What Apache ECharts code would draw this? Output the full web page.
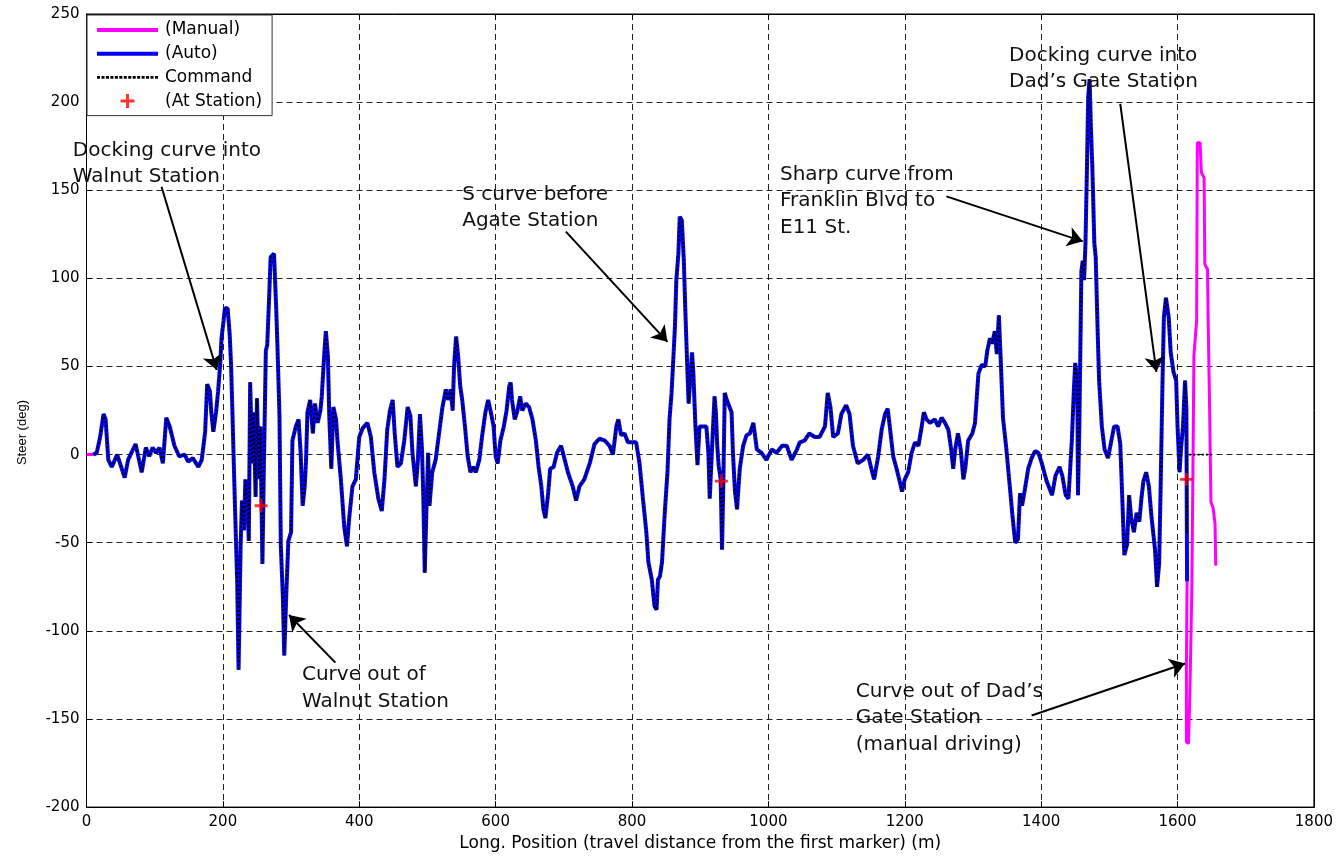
<!DOCTYPE html>
<html>
<head>
<meta charset="utf-8">
<script src="https://cdn.jsdelivr.net/npm/echarts@6/dist/echarts.min.js"></script>
<style>
  html, body { margin: 0; padding: 0; background: #fff; }
  #chart { width: 1336px; height: 857px; }
</style>
</head>
<body>
<div id="chart"></div>
<script>
// Steering angle along the route, automated run (position in m, steer in deg)
const autoPos = [
  10, 15, 20, 25, 28, 32, 37, 45, 50, 56, 61, 67, 72, 77, 81, 87, 92, 97, 102, 107,
  112, 117, 122, 129, 136, 144, 149, 156, 164, 169, 174, 177, 181, 183, 186, 190, 193, 196, 198, 201,
  203, 207, 210, 212, 214, 216, 218, 221, 223, 226, 228, 231, 233, 236, 238, 240, 243, 245, 248, 250,
  253, 255, 258, 260, 263, 265, 268, 270, 275, 278, 280, 283, 285, 288, 290, 293, 296,
  300, 302, 307, 311, 314, 317, 320, 322, 324, 328, 332, 335, 339, 343, 345, 349, 351, 354, 356, 359,
  362, 366, 368, 373, 378, 382, 385, 390, 395, 400, 405, 412, 417, 422, 428, 433, 437, 441, 445, 449,
  452, 456, 461, 466, 471, 475, 478, 483, 486, 489, 492, 494, 496, 499, 501, 503, 507, 512, 517, 522,
  527, 530, 534, 537, 539, 542, 545, 548, 551, 555, 559, 563, 567, 571, 576, 580, 585, 589, 593, 597,
  600, 603, 607, 612, 616, 620, 622, 624, 628, 632, 636, 639, 644, 649, 654, 659, 663, 667, 670, 673,
  677, 680, 685, 690, 696,
  700, 706, 713, 718, 723, 730, 738, 745, 752, 760, 767, 772, 777, 780, 784, 789, 794, 799, 806, 811,
  816, 821, 824, 829, 833, 836, 838, 841, 844, 848, 852, 855, 858, 860, 863, 865, 868, 870, 873, 876,
  878, 881, 883, 886, 888, 890, 893, 896, 899, 904, 909, 912, 914, 918, 921, 923, 925, 927, 930, 932,
  934, 936, 939, 942, 946, 948, 951, 954, 958, 963, 968, 973, 978, 983, 990, 997, 1005, 1012, 1020, 1027,
  1034, 1042, 1046,
  1053, 1060, 1068, 1075, 1083, 1087, 1091, 1095, 1102, 1107, 1114, 1119, 1124, 1131, 1139, 1146, 1151, 1155, 1161, 1166,
  1171, 1175, 1178, 1183, 1188, 1193, 1196, 1200, 1205, 1210, 1215, 1220, 1224, 1228, 1232, 1237, 1244, 1249, 1254, 1259,
  1264, 1268, 1271, 1274, 1278, 1282, 1286, 1289, 1293, 1299, 1303, 1308, 1313, 1318, 1321, 1325, 1328, 1332, 1335, 1338,
  1341, 1344, 1349, 1354, 1358, 1362, 1366, 1369, 1372, 1376, 1381,
  1386, 1391, 1396, 1401, 1408, 1416, 1421, 1427, 1431, 1436, 1440, 1443, 1445, 1448, 1450, 1453, 1454, 1456, 1459, 1461,
  1463, 1465, 1467, 1469, 1471, 1473, 1475, 1478, 1480, 1483, 1485, 1489, 1493, 1498, 1502, 1507, 1512, 1516, 1519, 1522,
  1526, 1529, 1532, 1536, 1540, 1544, 1547, 1550, 1554, 1558, 1562, 1567, 1570, 1573, 1575, 1578, 1580, 1583, 1587, 1590,
  1594, 1598, 1600, 1603, 1605, 1608, 1611, 1613, 1614
];
const autoSteer = [
  0, 1, 10, 23, 20, -3, -7, 0, -6, -13, -3, 2, 6, -3, -10, 4, -1, 4, 1, 4,
  -5, 21, 16, 5, -1, 0, -4, -2, -7, -3, 13, 40, 36, 24, 13, 24, 36, 51, 66, 76,
  83, 83, 68, 51, 24, -5, -33, -72, -122, -52, -26, -43, -14, -26, -49, 41, -5, 24, -24, 32,
  -14, 16, -62, -10, 59, 62, 91, 112, 114, 85, 62, 22, -52, -81, -114, -79, -49,
  -44, 8, 16, 20, 1, -29, -18, -3, 24, 31, 12, 29, 18, 25, 33, 59, 70, 56, 22, -8,
  27, 20, 8, -14, -41, -52, -37, -18, -14, 10, 15, 18, 10, -10, -25, -32, -14, 14, 25, 31,
  12, -7, -5, 8, 27, 22, 1, -18, -3, 23, 3, -25, -67, -25, 1, -29, -10, -3, 12, 27,
  37, 31, 37, 25, 50, 67, 56, 39, 31, 16, -1, -10, -7, -10, -3, 10, 24, 31, 24, 16,
  -1, -5, 8, 16, 25, 39, 41, 31, 20, 25, 33, 25, 29, 27, 20, 8, -7, -18, -31, -36,
  -22, -8, -7, 1, 5,
  -1, -10, -18, -26, -18, -14, -5, 6, 9, 8, 5, 0, 16, 20, 11, 12, 7, 7, 7, -5,
  -25, -44, -61, -71, -86, -88, -71, -69, -61, -33, -10, 20, 35, 50, 73, 99, 114, 135, 133, 110,
  84, 50, 29, 46, 58, 46, 16, -6, 16, 16, 16, 1, -25, 9, 33, 24, 5, -6, -14, -54,
  -14, 35, 31, 28, 24, 1, -21, -31, -8, 5, 11, 12, 18, 3, 1, -3, 3, 1, 5, 5,
  -3, 3, 7,
  8, 12, 10, 10, 16, 35, 27, 10, 12, 23, 28, 23, 5, -5, -3, 0, -8, -14, -1, 14,
  23, 26, 16, -1, -8, -16, -21, -14, -10, 1, 7, 5, 14, 24, 20, 18, 20, 16, 21, 18,
  14, 3, -8, 3, 12, 3, -14, -7, 8, 12, 18, 46, 51, 50, 59, 66, 63, 70, 57, 79,
  51, 21, 3, -18, -35, -50, -48, -22, -29, -20, -8,
  -2, 2, 1, -5, -15, -23, -12, -7, -12, -23, -25, -5, 8, 37, 52, 42, -23, 16, 104, 110,
  99, 120, 159, 203, 213, 185, 164, 120, 112, 68, 42, 16, 3, -2, 6, 16, 16, 6, -25, -57,
  -51, -23, -36, -44, -33, -38, -25, -15, -10, -18, -36, -54, -75, -62, -23, 42, 78, 89, 78, 58,
  47, 42, 16, -10, 3, 16, 42, 26, -72
];

// Commanded steer follows the automated trace, then is released to zero
const commandTailPos = [1614, 1614, 1650];
const commandTailSteer = [-45, 0, 0];

// Manual driving: short stretch at the start and the exit from Dad's Gate
const manualStartPos = [0, 10];
const manualStartSteer = [0, 0];
const manualEndPos = [1614, 1613, 1613, 1616, 1618, 1621, 1623, 1624, 1628, 1629, 1633, 1635, 1639, 1640, 1644, 1645, 1647, 1649, 1652, 1655, 1656];
const manualEndSteer = [-72, -120, -163, -164, -137, -76, 10, 56, 76, 177, 177, 160, 157, 108, 105, 74, 27, -27, -30, -39, -63];

// Station stops
const stationPos = [256, 931, 1613];
const stationSteer = [-29, -15, -14];

// Annotations (text anchor and arrow in data units)
const noteTexts = [
  'Docking curve into\nWalnut Station',
  'S curve before\nAgate Station',
  'Sharp curve from\nFranklin Blvd to\nE11 St.',
  'Docking curve into\nDad\u2019s Gate Station',
  'Curve out of\nWalnut Station',
  'Curve out of Dad\u2019s\nGate Station\n(manual driving)'
];
const noteAnchors = [[-20, 180], [551, 155], [1017, 166.5], [1353, 234], [316, -117.5], [1128, -127]];
const arrowFrom = [[110, 152], [703, 126.5], [1261, 146.5], [1516, 199], [365, -118], [1386, -148]];
const arrowTo = [[191, 48], [852, 64], [1461, 121], [1569, 47], [297, -91], [1611, -118.5]];

const zip = (xs, ys) => xs.map((x, i) => [x, ys[i]]);
const autoData = zip(autoPos, autoSteer);
const commandData = zip(autoPos.slice(0, -1), autoSteer.slice(0, -1)).concat(zip(commandTailPos, commandTailSteer));
const manualData = zip(manualStartPos, manualStartSteer).concat([[null, null]], zip(manualEndPos, manualEndSteer));
const stationData = zip(stationPos, stationSteer);

// Legend icons: solid bar for the traces, dashed bar for the command, plus sign for stops
const solidIcon = 'path://M0,0H61V4H0Z';
let dashPath = '';
for (let x = 0; x + 3 <= 61; x += 4.4) {
  dashPath += 'M' + x.toFixed(1) + ',0H' + (x + 3).toFixed(1) + 'V2.6H' + x.toFixed(1) + 'Z';
}
const dashIcon = 'path://' + dashPath;
const plusPath = 'path://M-1.3,-6H1.3V-1.3H6V1.3H1.3V6H-1.3V1.3H-6V-1.3H-1.3Z';
const tickFont = 'DejaVu Sans';
const plainNumber = v => String(v);

const chart = echarts.init(document.getElementById('chart'), null, { renderer: 'canvas' });

const option = {
  animation: false,
  backgroundColor: '#fff',
  grid: { left: 86.5, right: 22, top: 14, bottom: 48.5, show: true, borderColor: '#000', borderWidth: 1, backgroundColor: 'transparent' },
  legend: {
    orient: 'vertical',
    left: 87,
    top: 15,
    padding: [6.5, 10, 6, 10],
    itemWidth: 61,
    itemHeight: 14,
    itemGap: 6.7,
    backgroundColor: '#fff',
    borderColor: '#333',
    borderWidth: 1,
    borderRadius: 0,
    textStyle: { fontFamily: 'DejaVu Sans', fontSize: 17, color: '#000', padding: [0, 0, 0, 2] },
    data: [
      { name: '(Manual)', icon: solidIcon },
      { name: '(Auto)', icon: solidIcon },
      { name: 'Command', icon: dashIcon },
      { name: '(At Station)', icon: plusPath }
    ]
  },
  xAxis: [{
    type: 'value', min: 0, max: 1800, interval: 200,
    name: 'Long. Position (travel distance from the first marker) (m)',
    nameLocation: 'middle', nameGap: 27,
    nameTextStyle: { fontFamily: 'DejaVu Sans', fontSize: 17, color: '#000' },
    axisLine: { show: true, onZero: false, lineStyle: { color: '#000', width: 1 } },
    axisTick: { show: true, inside: true, length: 6, lineStyle: { color: '#000' } },
    axisLabel: { fontFamily: tickFont, fontSize: 15, color: '#000', margin: 8, formatter: plainNumber },
    splitLine: { show: true, lineStyle: { color: '#222', width: 1, type: [6, 4] } }
  }, {
    type: 'value', min: 0, max: 1800, interval: 200, position: 'top',
    axisLine: { show: true, onZero: false, lineStyle: { color: '#000' } },
    axisTick: { show: true, inside: true, length: 6, lineStyle: { color: '#000' } },
    axisLabel: { show: false }, splitLine: { show: false }
  }],
  yAxis: [{
    type: 'value', min: -200, max: 250, interval: 50,
    name: 'Steer (deg)',
    nameLocation: 'middle', nameGap: 58,
    nameTextStyle: { fontFamily: 'Liberation Sans', fontSize: 13, color: '#000', padding: [0, 44, 0, 0] },
    axisLine: { show: true, onZero: false, lineStyle: { color: '#000', width: 1 } },
    axisTick: { show: true, inside: true, length: 6, lineStyle: { color: '#000' } },
    axisLabel: { fontFamily: tickFont, fontSize: 15, color: '#000', margin: 7, formatter: plainNumber },
    splitLine: { show: true, lineStyle: { color: '#222', width: 1, type: [6, 4] } }
  }, {
    type: 'value', min: -200, max: 250, interval: 50, position: 'right',
    axisLine: { show: true, onZero: false, lineStyle: { color: '#000' } },
    axisTick: { show: true, inside: true, length: 6, lineStyle: { color: '#000' } },
    axisLabel: { show: false }, splitLine: { show: false }
  }],
  series: [
    {
      name: '(Manual)', type: 'line', data: manualData, showSymbol: false, symbol: 'none',
      connectNulls: false, z: 2,
      lineStyle: { color: '#ff00ff', width: 3 }, itemStyle: { color: '#ff00ff' }
    },
    {
      name: '(Auto)', type: 'line', data: autoData, showSymbol: false, symbol: 'none', z: 3,
      lineStyle: { color: '#0000ff', width: 4 }, itemStyle: { color: '#0000ff' }
    },
    {
      name: 'Command', type: 'line', data: commandData, showSymbol: false, symbol: 'none', z: 4,
      lineStyle: { color: '#000', width: 1.8, type: [2.2, 2] }, itemStyle: { color: '#000' }
    },
    {
      name: '(At Station)', type: 'scatter', data: stationData, symbol: plusPath, symbolSize: 13,
      symbolKeepAspect: true, z: 6,
      itemStyle: { color: '#ff0000' }
    },
    {
      name: 'notes', type: 'line', data: [], z: 5, silent: true,
      markLine: {
        silent: true, animation: false,
        symbol: ['none', 'arrow'], symbolSize: 15,
        label: { show: false },
        lineStyle: { color: '#000', width: 2, type: 'solid' },
        data: arrowFrom.map((p, i) => [{ coord: p }, { coord: arrowTo[i] }])
      }
    }
  ]
};

chart.setOption(option);

// Place the annotation texts from their data anchors
const graphics = noteTexts.map((t, i) => {
  const p = chart.convertToPixel({ gridIndex: 0 }, noteAnchors[i]);
  return {
    type: 'text', x: p[0], y: p[1], z: 10,
    style: { text: t, fontFamily: 'DejaVu Sans', fontSize: 20, lineHeight: 26.5, fill: '#111', verticalAlign: 'top', align: 'left' }
  };
});
chart.setOption({ graphic: graphics });
</script>
</body>
</html>
